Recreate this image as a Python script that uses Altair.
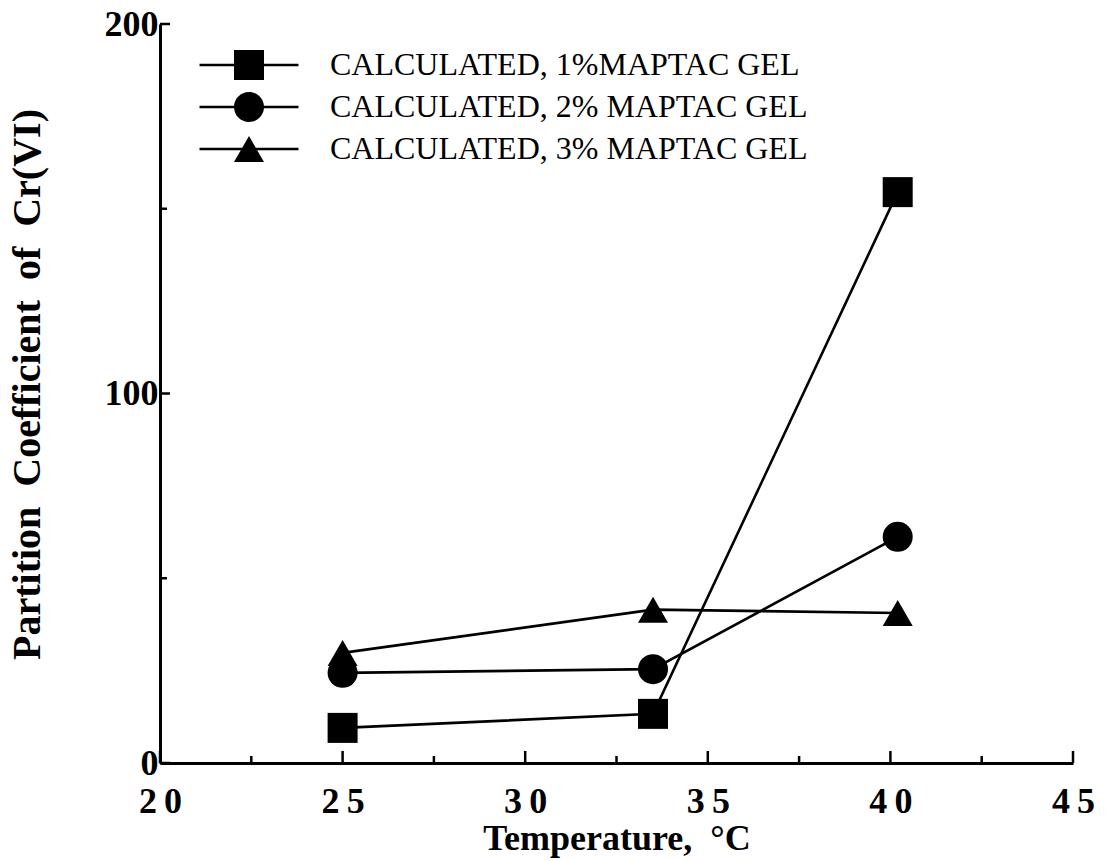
import altair as alt
import pandas as pd

# ---- data ----
temperature = [25.0, 33.5, 40.2]
series_names = [
    "CALCULATED, 1%MAPTAC GEL",
    "CALCULATED, 2% MAPTAC GEL",
    "CALCULATED, 3% MAPTAC GEL",
]
gel_1pct = [9.5, 13.3, 154.5]
gel_2pct = [24.4, 25.4, 61.2]
gel_3pct = [29.8, 41.5, 40.6]
x_major = [20, 25, 30, 35, 40, 45]
x_minor = [22.5, 27.5, 32.5, 37.5, 42.5]
y_major = [0, 100, 200]
y_minor = [50, 150]

rows = []
for name, vals in zip(series_names, [gel_1pct, gel_2pct, gel_3pct]):
    for t, v in zip(temperature, vals):
        rows.append({"series": name, "temp": t, "value": v})
df = pd.DataFrame(rows)

W, H = 913, 739
FONT = "Liberation Serif"

xlabel_expr = "slice(datum.label, 0, 1) + '\u2009' + slice(datum.label, 1)"

x_scale = alt.Scale(domain=[20, 45], nice=False, zero=False)
y_scale = alt.Scale(domain=[0, 200], nice=False)

x_axis = alt.Axis(
    values=x_major,
    title="Temperature,\u00a0 \u00b0C",
    labelExpr=xlabel_expr,
    labelFlush=False,
    ticks=False,
    tickSize=0,
    labelPadding=21,
    titlePadding=2,
    grid=False,
)
y_axis = alt.Axis(
    values=y_major,
    title="Partition\u00a0 Coefficient\u00a0 of\u00a0 Cr(VI)",
    labelFlush=False,
    ticks=False,
    tickSize=0,
    labelPadding=2,
    labelBaseline="middle",
    titlePadding=57,
    titleY=360,
    grid=False,
)

x_enc = alt.X("temp:Q", scale=x_scale, axis=x_axis)
y_enc = alt.Y("value:Q", scale=y_scale, axis=y_axis)

lines = alt.Chart(df).mark_line(color="black", strokeWidth=2.6).encode(
    x=x_enc, y=y_enc, detail="series:N"
)

points = alt.Chart(df).mark_point(filled=True, color="black", size=900, opacity=1).encode(
    x=x_enc,
    y=y_enc,
    shape=alt.Shape(
        "series:N",
        scale=alt.Scale(domain=series_names, range=["square", "circle", "triangle-up"]),
        legend=None,
    ),
)

# inward axis ticks (major longer than minor)
xt_major = alt.Chart(pd.DataFrame({"temp": x_major})).mark_rule(color="black", strokeWidth=2.5).encode(
    x=x_enc, y=alt.value(H), y2=alt.value(H - 12)
)
xt_minor = alt.Chart(pd.DataFrame({"temp": x_minor})).mark_rule(color="black", strokeWidth=2.5).encode(
    x=x_enc, y=alt.value(H), y2=alt.value(H - 7)
)
yt_major = alt.Chart(pd.DataFrame({"value": y_major})).mark_rule(color="black", strokeWidth=2.5).encode(
    y=y_enc, x=alt.value(0), x2=alt.value(10)
)
yt_minor = alt.Chart(pd.DataFrame({"value": y_minor})).mark_rule(color="black", strokeWidth=2.5).encode(
    y=y_enc, x=alt.value(0), x2=alt.value(7)
)

bar = "M-3.3,-0.09H3.3V0.09H-3.3Z "
legend_paths = [
    bar + "M-1,-1H1V1H-1Z",
    bar + "M-1,0A1,1,0,1,1,1,0A1,1,0,1,1,-1,0Z",
    bar + "M0,-0.866L1,0.866L-1,0.866Z",
]

legend_layer = alt.Chart(df).mark_point(filled=True, color="black", size=900, opacity=0).encode(
    x=x_enc,
    y=y_enc,
    shape=alt.Shape(
        "series:N",
        scale=alt.Scale(domain=series_names, range=legend_paths),
        legend=alt.Legend(
            title=None,
            orient="none",
            legendX=73,
            legendY=25,
            padding=0,
            labelFont=FONT,
            labelFontSize=32,
            labelColor="black",
            labelOffset=65,
            labelLimit=0,
            rowPadding=10,
            symbolSize=900,
            symbolFillColor="black",
            symbolStrokeColor="black",
            symbolStrokeWidth=0,
            symbolOpacity=1,
        ),
    ),
)

chart = (
    alt.layer(lines, points, legend_layer, xt_major, xt_minor, yt_major, yt_minor)
    .resolve_scale(shape="independent")
    .properties(
        width=W,
        height=H,
        autosize=alt.AutoSizeParams(type="none"),
        padding={"left": 160, "top": 24, "right": 39, "bottom": 98},
        background="white",
    )
    .configure_view(stroke=None)
    .configure_axis(
        domainColor="black",
        domainWidth=3,
        labelFont=FONT,
        labelFontSize=36,
        labelFontWeight="bold",
        labelColor="black",
        titleFont=FONT,
        titleFontSize=36,
        titleFontWeight="bold",
        titleColor="black",
    )
    .configure_axisY(titleFontSize=40)
)

chart.save("out.html", embed_options={"renderer": "svg", "actions": False})
